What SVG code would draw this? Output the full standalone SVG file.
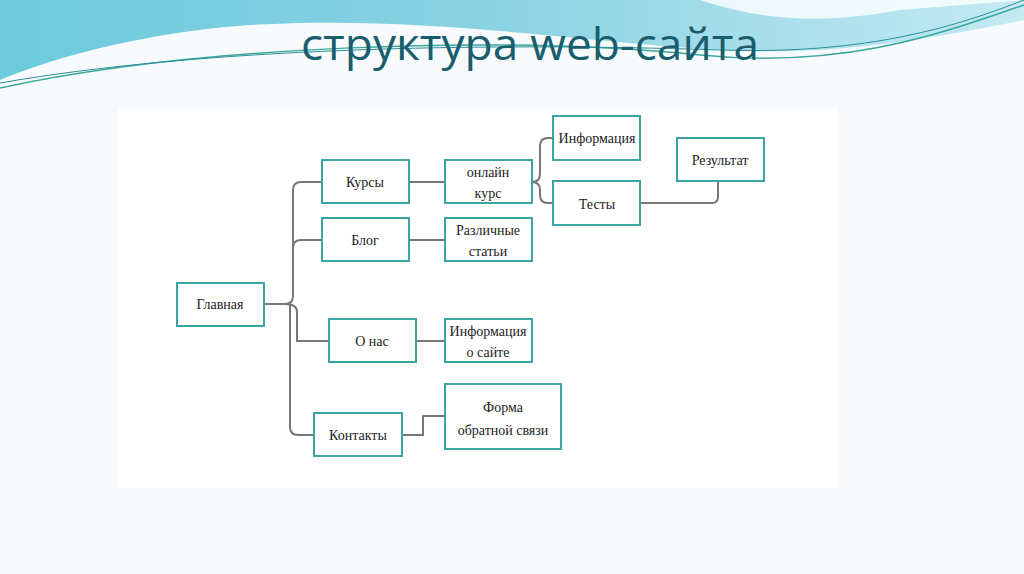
<svg xmlns="http://www.w3.org/2000/svg" width="1024" height="574" viewBox="0 0 1024 574">
<defs>
<linearGradient id="wv" x1="0" y1="0" x2="1" y2="0"><stop offset="0" stop-color="#6ccadd"/><stop offset="0.5" stop-color="#8cd3e3"/><stop offset="1" stop-color="#c4eaf2"/></linearGradient>
<style>
.n rect{fill:#fff;stroke:#3aa5a5;stroke-width:2}
.n text{font-family:"Liberation Serif",serif;font-size:14px;fill:#222;text-anchor:middle}
.c path{fill:none;stroke:#777;stroke-width:2}
</style>
</defs>
<rect width="1024" height="574" fill="#f7fbfd"/>
<path d="M0,0 H1024 V20 C900,45 820,55 720,50 C560,40 420,15 250,25 C150,32 60,55 0,80 Z" fill="url(#wv)"/>
<path d="M700,0 C760,20 820,25 900,10 L1024,0 Z" fill="#fff" opacity="0.8"/>
<path d="M0,88 C200,45 500,35 700,55 C850,70 950,30 1024,5" fill="none" stroke="#3aa89a" stroke-width="1.5"/>
<path d="M0,83 C200,48 480,42 720,50 C870,55 960,25 1024,0" fill="none" stroke="#2c8f9d" stroke-width="1"/>
<rect x="118" y="108" width="720" height="380" fill="#fff"/>
<text x="530" y="60" font-family="Open Sans,sans-serif" font-size="44" fill="#1a5e6e" text-anchor="middle" textLength="458" lengthAdjust="spacingAndGlyphs">структура web-сайта</text>
<g class="c">
<path d="M264,304 H285 Q293,304 293,296 V190 Q293,182 301,182 H322"/>
<path d="M293,248 Q293,240 301,240 H322"/>
<path d="M285,304 Q297,304 297,312 V341 H329"/>
<path d="M290,304 V427 Q290,435 298,435 H314"/>
<path d="M409,182 H445"/><path d="M409,240 H445"/><path d="M416,341 H445"/>
<path d="M402,435 H423 V416 H445"/>
<path d="M532,182 Q540,182 540,174 V146 Q540,138 548,138 H553"/>
<path d="M532,182 Q540,182 540,190 V195 Q540,203 548,203 H553"/>
<path d="M640,203 H712 Q718,203 718,197 V181"/>
</g>
<g id="glavnaya" class="n"><rect x="177" y="283" width="87" height="43"/><text x="220" y="309">Главная</text></g>
<g id="kursy" class="n"><rect x="322" y="160" width="87" height="43"/><text x="365" y="187">Курсы</text></g>
<g id="blog" class="n"><rect x="322" y="218" width="87" height="43"/><text x="365" y="245">Блог</text></g>
<g id="onas" class="n"><rect x="329" y="319" width="87" height="43"/><text x="372" y="346">О нас</text></g>
<g id="kontakty" class="n"><rect x="314" y="413" width="88" height="43"/><text x="358" y="440">Контакты</text></g>
<g id="online" class="n"><rect x="445" y="160" width="87" height="43"/><text x="488" y="177">онлайн</text><text x="488" y="198">курс</text></g>
<g id="stati" class="n"><rect x="445" y="218" width="87" height="43"/><text x="488" y="235">Различные</text><text x="488" y="256">статьи</text></g>
<g id="info-site" class="n"><rect x="445" y="319" width="87" height="43"/><text x="488" y="336">Информация</text><text x="488" y="357">о сайте</text></g>
<g id="forma" class="n"><rect x="445" y="384" width="116" height="65"/><text x="503" y="412">Форма</text><text x="503" y="435">обратной связи</text></g>
<g id="info" class="n"><rect x="553" y="116" width="87" height="44"/><text x="597" y="143">Информация</text></g>
<g id="testy" class="n"><rect x="553" y="181" width="87" height="44"/><text x="597" y="209">Тесты</text></g>
<g id="result" class="n"><rect x="677" y="138" width="87" height="43"/><text x="720" y="165">Результат</text></g>
</svg>
